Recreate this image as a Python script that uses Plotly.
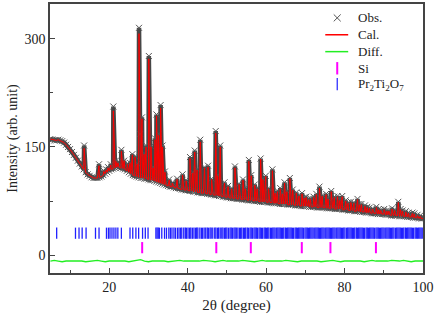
import numpy as np
import plotly.graph_objects as go

# ---------------- data ----------------
# background / smooth part of the calculated profile, 5.0 ... 100.0 deg every 0.5 deg
bg_start, bg_step = 5.0, 0.5
bg_cal = [161,160,159,159,160,159,158,156,153,150,
          147,143,139,135,131,127,123,119,115,112,
          110,108,107,107,107,108,109,111,113,115,
          117,119,120,121,122,122,121,120,119,117,
          115,113,111,110,109,108,107,107,106,106,
          105,104,104,103,102,101,100,99,98,97,
          96,95,95,94,93,93,92,91,91,90,
          90,89,89,88,88,87,87,86,86,86,
          85,85,84,84,83,83,82,82,81,81,
          80,80,79,79,79,78,78,78,77,77,
          77,76,76,76,75,75,75,74,74,74,
          74,73,73,73,72,72,72,71,71,71,
          71,70,70,70,70,69,69,69,68,68,
          68,68,67,67,67,67,66,66,66,66,
          66,65,65,65,65,64,64,64,64,63,
          63,63,62,62,62,61,61,61,60,60,
          60,59,59,59,58,58,58,57,57,57,
          57,56,56,56,55,55,55,55,54,54,
          54,54,53,53,53,52,52,52,51,51,
          51]

# Bragg peaks: position (deg), calculated top, observed top
peak_pos = [13.6,17.4,18.6,19.2,19.7,20.4,21.05,21.7,22.2,23.1,23.8,24.6,25.3,25.9,26.6,27.15,
            27.6,27.9,28.35,28.9,29.4,30.1,30.65,31.15,31.65,32.05,32.6,33.1,33.6,34.2,35.3,36.1,
            37.3,38.7,39.6,40.6,41.3,41.8,42.4,43.2,44.3,45.2,46.1,47.15,47.65,48.3,49.4,50.3,
            51.2,52.05,53.1,54.1,54.7,55.6,56.2,57.1,57.7,58.6,59.2,59.9,60.6,61.6,62.3,62.9,
            63.6,64.15,64.7,65.3,66.05,66.8,67.7,68.4,69.15,69.7,70.2,70.8,71.3,72.1,72.8,73.6,
            74.3,75.3,75.8,76.6,77.4,78.2,78.8,79.4,80.3,80.9,81.6,82.4,83.3,83.8,84.3,85.2,
            85.8,86.4,87.1,88.1,88.7,89.2,90.1,90.8,91.3,92.1,92.8,93.7,94.3,94.8,95.6,96.3,
            97.3,97.8,98.6,99.3]
peak_cal = [148,124,116,118,121,125,200,130,128,144,131,126,128,139,136,126,
            307,165,189,140,150,272,150,121,160,193,166,204,150,115,104,100,
            105,111,103,134,114,143,118,157,121,122,105,169,110,150,100,95,
            92,121,98,104,92,130,110,97,92,133,105,109,92,117,86,88,
            92,85,100,88,106,90,86,82,85,79,80,77,78,80,84,93,
            82,84,78,88,80,81,76,81,75,72,73,72,77,70,70,68,
            66,65,64,66,63,62,63,61,61,64,62,73,63,61,60,58,
            58,57,55,54]
peak_obs = [152,126,117,119,122,126,206,131,129,146,131,127,128,140,137,127,
            315,168,191,141,152,276,151,122,162,195,168,208,152,116,105,101,
            106,112,104,136,115,145,119,160,122,124,106,172,111,152,101,96,
            93,123,99,105,93,132,111,98,93,134,106,110,93,119,87,89,
            93,86,101,89,107,91,87,83,86,80,81,78,79,81,85,95,
            83,85,79,89,81,82,77,82,76,73,74,73,78,71,71,69,
            67,66,65,67,64,63,64,62,62,65,63,74,64,62,61,59,
            59,58,56,55]

# difference curve (offset), 5 ... 100 deg every 1 deg
diff_start, diff_step = 5.0, 1.0
diff_vals = [-8,-7,-8,-9,-8,-8,-7,-8,-8,-9,-8,-8,-7,-8,-9,-8,-8,-7,-8,-8,
             -9,-8,-7,-6,-8,-9,-8,-8,-7,-8,-9,-8,-8,-7,-8,-8,-9,-8,-8,-7,
             -7,-8,-9,-8,-7,-8,-8,-9,-8,-7,-8,-8,-9,-8,-7,-8,-8,-8,-9,-8,
             -7,-8,-8,-9,-8,-8,-7,-7,-8,-9,-8,-8,-7,-8,-9,-8,-8,-7,-8,-8,
             -9,-8,-7,-8,-8,-9,-8,-7,-8,-8,-7,-8,-9,-8,-8,-8]

# reflection positions
si_ticks = [28.4, 47.3, 56.1, 69.1, 76.4, 88.0]
pto_ticks = [6.6,11.4,12.3,13.1,14.1,16.5,17.4,19.3,19.8,20.2,20.7,21.2,21.7,22.2,23.1,25.3,26.0,26.8,
             27.5,28.5,29.2,29.9,31.9,32.2,32.5,32.8,33.4,34.1,34.6,35.2,35.6,36.0,36.5,36.9,37.4,37.8,
             38.2,38.5,39.0,39.4,39.7,40.1,40.5,40.8,41.2,41.6,42.0,42.3,42.6,43.1,43.5,43.8,44.2,44.6,
             45.0,45.3,45.7,46.0,46.4,46.9,47.2,47.6,47.9,48.3,48.7,49.0,49.4,49.7,50.0,50.4,50.8,51.1,
             51.4,51.8,52.1,52.4,52.8,53.2,53.5,53.8,54.2,54.5,54.8,55.2,55.5,55.9,56.2,56.5,56.9,57.2,
             57.5,57.8,58.2,58.5,58.8,59.1,59.5,59.8,60.1,60.4,60.7,61.1,61.4,61.7,62.0,62.3,62.7,63.0,
             63.3,63.6,63.9,64.2,64.5,64.9,65.2,65.5,65.8,66.1,66.4,66.7,67.0,67.4,67.7,68.0,68.3,68.6,
             68.9,69.2,69.5,69.9,70.2,70.5,70.8,71.1,71.4,71.7,72.0,72.4,72.7,73.0,73.3,73.6,73.9,74.2,
             74.5,74.8,75.2,75.5,75.8,76.1,76.4,76.7,77.0,77.3,77.6,78.0,78.3,78.6,78.9,79.2,79.5,79.8,
             80.1,80.5,80.8,81.1,81.4,81.7,82.0,82.3,82.6,83.0,83.3,83.6,83.9,84.2,84.5,84.8,85.1,85.5,
             85.8,86.1,86.4,86.7,87.0,87.3,87.6,88.0,88.3,88.6,88.9,89.2,89.5,89.8,90.1,90.5,90.8,91.1,
             91.4,91.7,92.0,92.3,92.6,93.0,93.3,93.6,93.9,94.2,94.5,94.8,95.1,95.5,95.8,96.1,96.4,96.7,
             97.0,97.3,97.6,98.0,98.3,98.6,98.9,99.2,99.5,99.8]
si_level, pto_level = 10.5, 30.5

legend_labels = ["Obs.", "Cal.", "Diff.", "Si", "Pr<sub>2</sub>Ti<sub>2</sub>O<sub>7</sub>"]

# ---------------- assemble ----------------
bg_x = np.round(bg_start + bg_step * np.arange(len(bg_cal)), 3)
x_all = np.concatenate([bg_x, np.array(peak_pos)])
order = np.argsort(x_all, kind="stable")
xs = x_all[order]
cal = np.concatenate([np.array(bg_cal, float), np.array(peak_cal, float)])[order]
obs = np.concatenate([np.array(bg_cal, float), np.array(peak_obs, float)])[order]
diff_x = diff_start + diff_step * np.arange(len(diff_vals))

FONT = "Liberation Serif"
C_OBS, C_CAL, C_DIFF, C_SI, C_PTO = "#555555", "#ff0000", "#22ee22", "#ff00ff", "#2020ff"

fig = go.Figure()
fig.add_trace(go.Scatter(x=xs, y=obs, mode="lines", line=dict(color="#464646", width=4.5),
                         showlegend=False, hoverinfo="skip"))
fig.add_trace(go.Scatter(x=xs, y=obs, mode="markers", name="Obs.", showlegend=False,
                         marker=dict(symbol="x-thin", size=6, line=dict(color=C_OBS, width=1))))
fig.add_trace(go.Scatter(x=xs, y=cal, mode="lines", name="Cal.", showlegend=False,
                         line=dict(color=C_CAL, width=1)))
fig.add_trace(go.Scatter(x=diff_x, y=diff_vals, mode="lines", name="Diff.", showlegend=False,
                         line=dict(color=C_DIFF, width=1.3)))
fig.add_trace(go.Scatter(x=si_ticks, y=[si_level] * len(si_ticks), mode="markers", name="Si",
                         showlegend=False,
                         marker=dict(symbol="line-ns", size=8, line=dict(color=C_SI, width=2))))
fig.add_trace(go.Scatter(x=pto_ticks, y=[pto_level] * len(pto_ticks), mode="markers",
                         name=legend_labels[4], showlegend=False,
                         marker=dict(symbol="line-ns", size=8, line=dict(color=C_PTO, width=1.3))))

# ---------------- hand-built legend (pixel layout -> paper coords) ----------------
L, T, W, H = 50, 2, 374, 271
def px(xp): return (xp - L) / W
def py(yp): return (T + H - yp) / H

shapes = []
annotations = []
rows = [16, 33, 50, 67, 83]
sym_x0, sym_x1, sym_xc, text_x = 326, 349, 338, 357
shapes.append(dict(type="line", xref="paper", yref="paper", x0=px(sym_xc - 3.5), x1=px(sym_xc + 3.5),
                   y0=py(rows[0] - 3.5), y1=py(rows[0] + 3.5), line=dict(color=C_OBS, width=1)))
shapes.append(dict(type="line", xref="paper", yref="paper", x0=px(sym_xc - 3.5), x1=px(sym_xc + 3.5),
                   y0=py(rows[0] + 3.5), y1=py(rows[0] - 3.5), line=dict(color=C_OBS, width=1)))
for r, c in [(rows[1], C_CAL), (rows[2], C_DIFF)]:
    shapes.append(dict(type="line", xref="paper", yref="paper", x0=px(sym_x0), x1=px(sym_x1),
                       y0=py(r), y1=py(r), line=dict(color=c, width=1.5)))
shapes.append(dict(type="line", xref="paper", yref="paper", x0=px(sym_xc), x1=px(sym_xc),
                   y0=py(rows[3] - 6.5), y1=py(rows[3] + 6), line=dict(color=C_SI, width=2)))
shapes.append(dict(type="line", xref="paper", yref="paper", x0=px(sym_xc), x1=px(sym_xc),
                   y0=py(rows[4] - 6.5), y1=py(rows[4] + 6), line=dict(color=C_PTO, width=1.2)))
for r, lab in zip(rows, legend_labels):
    annotations.append(dict(text=lab, xref="paper", yref="paper", x=px(text_x), y=py(r),
                            xanchor="left", yanchor="middle", showarrow=False,
                            font=dict(family=FONT, size=13, color="#222222")))

axis_common = dict(showline=True, linecolor="#444444", linewidth=1.5, mirror=True,
                   ticks="inside", ticklen=5, tickcolor="#444444", tickwidth=1,
                   showgrid=False, zeroline=False,
                   tickfont=dict(family=FONT, size=14, color="#222222"))
fig.update_layout(
    width=436, height=314,
    margin=dict(l=50, r=12, t=2, b=41),
    paper_bgcolor="white", plot_bgcolor="white",
    font=dict(family=FONT, size=14, color="#222222"),
    showlegend=False,
    shapes=shapes, annotations=annotations,
    xaxis=dict(range=[4.9, 100], tick0=0, dtick=20,
               minor=dict(dtick=10, tick0=0, ticks="inside", ticklen=3, tickcolor="#444444"),
               title=dict(text="2θ (degree)", font=dict(family=FONT, size=15), standoff=7),
               **axis_common),
    yaxis=dict(range=[-24.6, 348], tickvals=[0, 150, 300],
               minor=dict(tickvals=[75, 225], ticks="inside", ticklen=3, tickcolor="#444444"),
               title=dict(text="Intensity (arb. unit)", font=dict(family=FONT, size=14), standoff=4),
               **axis_common),
)
fig.write_html("out.html", config={"displayModeBar": False},
               post_script="document.body.style.margin='0px';")
